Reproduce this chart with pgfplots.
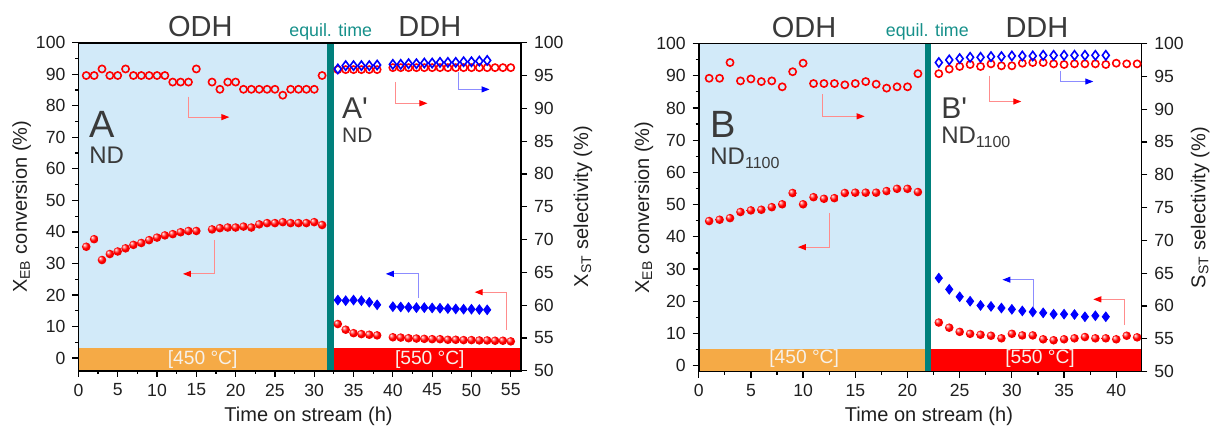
\documentclass[border=0pt]{standalone}
\usepackage{fontspec}
\setmainfont{Liberation Sans}[Ligatures=TeXOff]
\usepackage{pgfplots}
\pgfplotsset{compat=1.18}
\usetikzlibrary{arrows.meta}

\definecolor{bgblue}{HTML}{D2EAF9}
\definecolor{bandorange}{HTML}{F5AA46}
\definecolor{bandred}{HTML}{FF0000}
\definecolor{tealline}{HTML}{00807C}
\definecolor{tealtext}{HTML}{16908A}
\definecolor{txtgray}{HTML}{3A3A3A}
\definecolor{bandtxt}{HTML}{F6F1EA}

% bright red sphere with a white highlight
\pgfdeclareradialshading{redball}{\pgfqpoint{-12bp}{12bp}}{color(0bp)=(white); color(5bp)=(red!35!white);
  color(16bp)=(red); color(32bp)=(red!90!black); color(50bp)=(red!60!black)}
\pgfdeclareplotmark{redball}{\pgfpathcircle{\pgfpointorigin}{\pgfplotmarksize}\pgfshadepath{redball}{0}\pgfusepath{discard}}

\tikzset{
  rarr/.style={draw=red!45, line width=0.5pt, -{Triangle[red, length=4pt, width=3pt]}},
  barr/.style={draw=blue!45, line width=0.5pt, -{Triangle[blue, length=4pt, width=3pt]}},
}
\pgfplotsset{
  panel/.style={scale only axis, width=221.3pt, height=164pt, xmin=0, clip=false,
    axis line style={line width=0.8pt, black}, tick style={line width=0.6pt, black},
    tick align=outside, major tick length=3pt, minor tick length=1.6pt,
    ticklabel style={font=\fontsize{8.8}{10}\selectfont, text=black!88},
    label style={font=\fontsize{10}{12}\selectfont, text=black!88},
    /pgf/number format/assume math mode=true},
  conv/.style={only marks, mark=redball, mark size=2.15pt},
  convb/.style={only marks, mark=diamond*, mark size=2.4pt, color=blue, mark options={fill=blue}},
  sel/.style={only marks, mark=o, mark size=1.8pt, color=red, line width=0.8pt},
  selb/.style={only marks, mark=diamond, mark size=2.3pt, color=blue, line width=0.8pt},
}
\newcommand{\bandfont}{\fontsize{9.6}{11}\selectfont}
\newcommand{\eqfont}{\fontsize{8.9}{10}\selectfont}

\begin{document}
\begin{tikzpicture}

% ---------- left panel, conversion axis
\begin{axis}[panel, name=L1, at={(39.2pt,29.65pt)}, anchor=south west, xmax=56.3, ymin=-4, ymax=100,
  xtick={0,5,...,55}, minor x tick num=1, ytick={0,10,...,100}, minor y tick num=1,
  tick pos=left, axis on top,
  xlabel={Time on stream (h)}, ylabel={X\textsubscript{EB} conversion (\%)},
  xlabel style={at={(axis description cs:0.52,-0.138)}, anchor=center},
  ylabel style={at={(axis description cs:-0.128,0.5)}, anchor=center}]
\fill[bgblue] (axis cs:0,-4) rectangle (axis cs:31.65,100);
\fill[bandorange] (axis cs:0,-4) rectangle (axis cs:31.65,3.2);
\fill[bandred] (axis cs:32.45,-4) rectangle (axis cs:56.3,3.2);
\fill[tealline] (axis cs:31.65,-4) rectangle (axis cs:32.45,100);
\node[text=bandtxt, font=\bandfont] at (axis cs:15.8,-0.3) {[450 °C]};
\node[text=bandtxt, font=\bandfont] at (axis cs:44.7,-0.3) {[550 °C]};

\addplot[conv] coordinates {(1,35.3)(2,37.7)(3,31.1)(4,33.0)(5,33.8)(6,34.8)(7,35.9)(8,36.5)
  (9,37.4)(10,38.2)(11,38.9)(12,39.3)(13,39.9)(14,40.3)(15,40.3)(17,40.8)(18,41.2)(19,41.4)
  (20,41.4)(21,41.7)(22,41.4)(23,42.4)(24,42.8)(25,42.8)(26,43.1)(27,42.8)(28,42.8)(29,42.8)
  (30,43.1)(31,42.2)};
\addplot[conv] coordinates {(33,10.8)(34,9.0)(35,7.9)(36,7.6)(37,7.4)(38,7.2)(40,6.6)(41,6.5)
  (42,6.3)(43,6.2)(44,6.1)(45,6.0)(46,6.0)(47,5.8)(48,5.8)(49,5.7)(50,5.7)(51,5.6)(52,5.6)
  (53,5.5)(54,5.5)(55,5.3)};
\addplot[convb] coordinates {(33,18.4)(34,18.2)(35,18.4)(36,18.2)(37,17.7)(38,16.9)(40,16.3)
  (41,16.2)(42,16.1)(43,16.0)(44,16.0)(45,15.9)(46,15.8)(47,15.7)(48,15.6)(49,15.5)(50,15.5)
  (51,15.4)(52,15.3)};

\draw[rarr] (axis cs:14,82.9) -- (axis cs:14,76.4) -- (axis cs:19.2,76.4);
\draw[rarr] (axis cs:17.3,37.5) -- (axis cs:17.3,26.7) -- (axis cs:13.3,26.7);
\draw[rarr] (axis cs:40.3,87.6) -- (axis cs:40.3,80.8) -- (axis cs:44.4,80.8);
\draw[barr] (axis cs:48.3,90.8) -- (axis cs:48.3,85.2) -- (axis cs:52.3,85.2);
\draw[barr] (axis cs:43.2,19.0) -- (axis cs:43.2,26.7) -- (axis cs:39.1,26.7);
\draw[rarr] (axis cs:54.4,9.0) -- (axis cs:54.4,20.9) -- (axis cs:50.4,20.9);

\node[text=txtgray, font=\fontsize{14.5}{16}\selectfont] at (axis cs:15.5,105) {ODH};
\node[text=txtgray, font=\fontsize{14.5}{16}\selectfont] at (axis cs:44.7,105) {DDH};
\node[text=tealtext, font=\eqfont, anchor=base] at (axis cs:32.1,102.1) {equil. time};
\node[text=txtgray, font=\fontsize{19}{20}\selectfont, anchor=base west, inner sep=0pt] at (axis cs:1.35,70.1) {A};
\node[text=txtgray, font=\fontsize{12}{14}\selectfont, anchor=base west, inner sep=0pt] at (axis cs:1.35,61.6) {ND};
\node[text=txtgray, font=\fontsize{15}{16}\selectfont, anchor=base west, inner sep=0pt] at (axis cs:33.5,76.1) {A'};
\node[text=txtgray, font=\fontsize{10.5}{12}\selectfont, anchor=base west, inner sep=0pt] at (axis cs:33.5,68.2) {ND};
\end{axis}

% ---------- left panel, selectivity axis
\begin{axis}[panel, at={(L1.south west)}, anchor=south west, xmax=56.3, ymin=50, ymax=100,
  axis x line=none, axis y line*=right, ytick={50,55,...,100},
  ylabel={X\textsubscript{ST} selectivity (\%)},
  ylabel style={at={(axis description cs:1.14,0.5)}, anchor=center}]
\addplot[sel] coordinates {(1,95.0)(2,95.0)(3,96.0)(4,95.0)(5,95.0)(6,96.0)(7,95.0)(8,95.0)
  (9,95.0)(10,95.0)(11,95.0)(12,94.0)(13,94.0)(14,94.0)(15,96.0)(17,94.0)(18,92.9)(19,94.0)
  (20,94.0)(21,92.9)(22,92.9)(23,92.9)(24,92.9)(25,92.9)(26,92.0)(27,92.9)(28,92.9)(29,92.9)
  (30,92.9)(31,95.0)};
\addplot[sel] coordinates {(33,95.9)(34,95.9)(35,95.9)(36,95.9)(37,95.9)(38,95.9)(40,96.2)
  (41,96.2)(42,96.2)(43,96.2)(44,96.2)(45,96.2)(46,96.2)(47,96.2)(48,96.2)(49,96.2)(50,96.2)
  (51,96.2)(52,96.2)(53,96.2)(54,96.2)(55,96.2)};
\addplot[selb] coordinates {(33,96.0)(34,96.5)(35,96.5)(36,96.5)(37,96.5)(38,96.6)(40,96.7)
  (41,96.7)(42,96.8)(43,96.8)(44,96.9)(45,96.9)(46,97.0)(47,97.0)(48,97.0)(49,97.1)(50,97.1)
  (51,97.2)(52,97.3)};
\end{axis}

% ---------- right panel, conversion axis
\begin{axis}[panel, name=R1, at={(349.35pt,29.25pt)}, anchor=south west, xmax=42.4, ymin=-1.8, ymax=100,
  xtick={0,5,...,40}, minor x tick num=1, ytick={0,10,...,100}, minor y tick num=1,
  tick pos=left, axis on top,
  xlabel={Time on stream (h)}, ylabel={X\textsubscript{EB} conversion (\%)},
  xlabel style={at={(axis description cs:0.52,-0.138)}, anchor=center},
  ylabel style={at={(axis description cs:-0.124,0.5)}, anchor=center}]
\fill[bgblue] (axis cs:0,-1.8) rectangle (axis cs:21.64,100);
\fill[bandorange] (axis cs:0,-1.8) rectangle (axis cs:21.64,5.1);
\fill[bandred] (axis cs:22.27,-1.8) rectangle (axis cs:42.4,5.1);
\fill[tealline] (axis cs:21.64,-1.8) rectangle (axis cs:22.27,100);
\node[text=bandtxt, font=\bandfont] at (axis cs:10.1,2.2) {[450 °C]};
\node[text=bandtxt, font=\bandfont] at (axis cs:32.7,2.2) {[550 °C]};

\addplot[conv] coordinates {(1,44.9)(2,45.3)(3,45.8)(4,47.7)(5,48.2)(6,48.4)(7,49.2)(8,50.1)
  (9,53.6)(10,50.1)(11,52.3)(12,51.8)(13,52.0)(14,53.6)(15,53.7)(16,53.7)(17,53.7)(18,54.2)
  (19,54.9)(20,54.9)(21,53.9)};
\addplot[conv] coordinates {(23,13.4)(24,11.8)(25,10.5)(26,9.9)(27,9.6)(28,9.3)(29,8.5)(30,9.9)
  (31,9.4)(32,9.4)(33,8.2)(34,7.9)(35,8.2)(36,8.5)(37,8.9)(38,8.5)(39,8.5)(40,8.2)(41,9.3)(42,8.8)};
\addplot[convb] coordinates {(23,27.2)(24,23.7)(25,21.4)(26,20.0)(27,18.7)(28,18.4)(29,17.9)
  (30,17.5)(31,17.0)(32,16.7)(33,16.4)(34,16.0)(35,16.0)(36,15.9)(37,15.2)(38,15.5)(39,15.2)};

\draw[rarr] (axis cs:11.9,84.3) -- (axis cs:11.9,77.4) -- (axis cs:15.9,77.4);
\draw[rarr] (axis cs:12.5,47.4) -- (axis cs:12.5,36.8) -- (axis cs:9.5,36.8);
\draw[rarr] (axis cs:27.9,90.0) -- (axis cs:27.9,82.0) -- (axis cs:30.9,82.0);
\draw[barr] (axis cs:34.7,91.5) -- (axis cs:34.7,88.2) -- (axis cs:37.8,88.2);
\draw[barr] (axis cs:32.1,18.3) -- (axis cs:32.1,26.7) -- (axis cs:29.1,26.7);
\draw[rarr] (axis cs:40.8,12.6) -- (axis cs:40.8,20.6) -- (axis cs:37.8,20.6);

\node[text=txtgray, font=\fontsize{14.5}{16}\selectfont] at (axis cs:10.1,104.9) {ODH};
\node[text=txtgray, font=\fontsize{14.5}{16}\selectfont] at (axis cs:32.4,104.9) {DDH};
\node[text=tealtext, font=\eqfont, anchor=base] at (axis cs:21.9,102.1) {equil. time};
\node[text=txtgray, font=\fontsize{19}{20}\selectfont, anchor=base west, inner sep=0pt] at (axis cs:1.08,70.8) {B};
\node[text=txtgray, font=\fontsize{12}{14}\selectfont, anchor=base west, inner sep=0pt] at (axis cs:1.08,62.4) {ND\textsubscript{1100}};
\node[text=txtgray, font=\fontsize{15}{16}\selectfont, anchor=base west, inner sep=0pt] at (axis cs:23.2,76.7) {B'};
\node[text=txtgray, font=\fontsize{12}{14}\selectfont, anchor=base west, inner sep=0pt] at (axis cs:23.2,68.9) {ND\textsubscript{1100}};
\end{axis}

% ---------- right panel, selectivity axis
\begin{axis}[panel, at={(R1.south west)}, anchor=south west, xmax=42.4, ymin=50, ymax=100,
  axis x line=none, axis y line*=right, ytick={50,55,...,100},
  ylabel={S\textsubscript{ST} selectivity (\%)},
  ylabel style={at={(axis description cs:1.133,0.5)}, anchor=center}]
\addplot[sel] coordinates {(1,94.7)(2,94.7)(3,97.1)(4,94.3)(5,94.6)(6,94.2)(7,94.3)(8,93.4)
  (9,95.7)(10,97.0)(11,93.9)(12,93.9)(13,93.9)(14,93.7)(15,93.9)(16,94.2)(17,93.8)(18,93.2)
  (19,93.4)(20,93.4)(21,95.4)};
\addplot[sel] coordinates {(23,95.4)(24,96.1)(25,96.5)(26,96.8)(27,96.5)(28,96.9)(29,96.6)
  (30,96.6)(31,97.0)(32,97.1)(33,97.1)(34,96.9)(35,96.8)(36,96.9)(37,96.9)(38,96.9)(39,96.8)
  (40,97.0)(41,96.9)(42,96.9)};
\addplot[selb] coordinates {(23,97.1)(24,97.5)(25,97.7)(26,97.9)(27,97.9)(28,98.0)(29,98.0)
  (30,98.1)(31,98.1)(32,98.1)(33,98.2)(34,98.2)(35,98.2)(36,98.2)(37,98.2)(38,98.2)(39,98.2)};
\end{axis}

\pgfresetboundingbox
\path[use as bounding box] (0,0) rectangle (610pt,215pt);
\end{tikzpicture}
\end{document}
